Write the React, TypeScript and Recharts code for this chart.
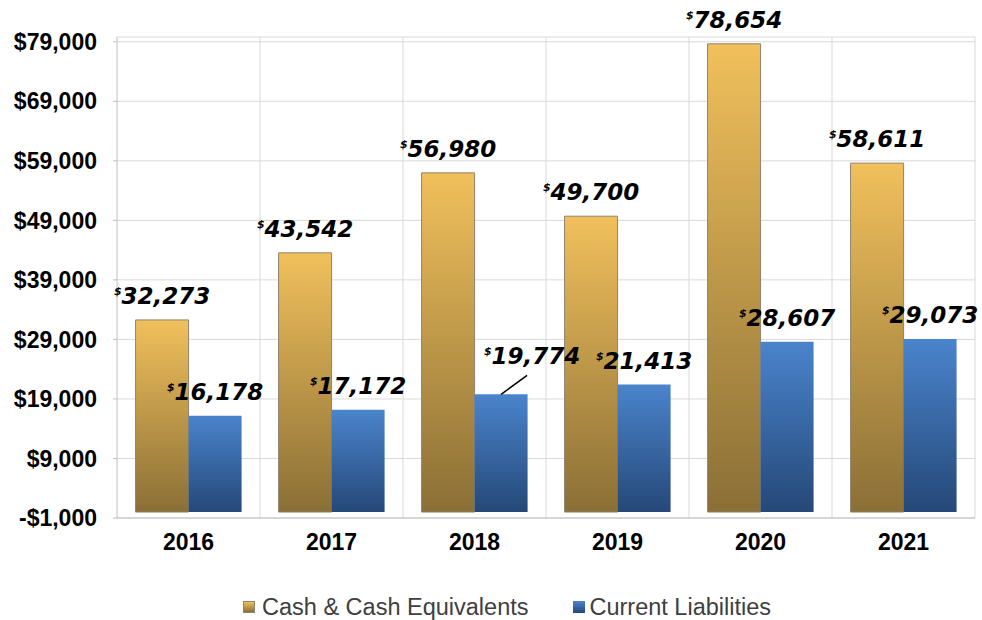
import { BarChart, Bar, XAxis, YAxis, CartesianGrid, LabelList } from 'recharts';

const years = ['2016', '2017', '2018', '2019', '2020', '2021'];
const cashValues = [32273, 43542, 56980, 49700, 78654, 58611];
const liabilityValues = [16178, 17172, 19774, 21413, 28607, 29073];
const yTicks = [-1000, 9000, 19000, 29000, 39000, 49000, 59000, 69000, 79000];

const data = years.map((year, i) => ({
  year,
  cash: cashValues[i],
  liabilities: liabilityValues[i],
}));

const labelFont = '"DejaVu Sans", sans-serif';
const axisFont = '"Liberation Sans", Arial, sans-serif';

const fmtMoney = (v: number) =>
  v < 0 ? `-$${Math.abs(v).toLocaleString('en-US')}` : `$${v.toLocaleString('en-US')}`;

// value label with a small raised dollar sign; the 2018 liability label sits off to the side with a leader line
function makeLabel(series: 'cash' | 'liabilities') {
  return (props: any) => {
    const { x, y, width, value, index } = props;
    const cx = x + width / 2;
    const offset = series === 'liabilities' && index === 2;
    const tx = offset ? cx + 31 : cx;
    const ty = offset ? y - 30 : y - 16;
    return (
      <g>
        {offset && <line x1={cx} y1={y} x2={cx + 26} y2={y - 19} stroke="#000" strokeWidth={1.5} />}
        <text
          x={tx}
          y={ty}
          textAnchor="middle"
          fontFamily={labelFont}
          fontWeight="bold"
          fontStyle="italic"
          fontSize={23}
          fill="#000"
        >
          <tspan fontSize={11} dy={-9}>$</tspan>
          <tspan dy={9}>{Number(value).toLocaleString('en-US')}</tspan>
        </text>
      </g>
    );
  };
}

export default function App() {
  return (
    <div style={{ position: 'absolute', left: 0, top: 0, width: 982, height: 620, background: '#fff' }}>
      <BarChart
        width={982}
        height={620}
        data={data}
        margin={{ top: 37, right: 7, left: 0, bottom: 62 }}
        barCategoryGap="13%"
        barGap={0}
      >
        <defs>
          <linearGradient id="cashGrad" x1="0" y1="0" x2="0" y2="1">
            <stop offset="0%" stopColor="#F1C05C" />
            <stop offset="100%" stopColor="#8A6F36" />
          </linearGradient>
          <linearGradient id="liabGrad" x1="0" y1="0" x2="0" y2="1">
            <stop offset="0%" stopColor="#4A84CC" />
            <stop offset="100%" stopColor="#254878" />
          </linearGradient>
        </defs>
        <CartesianGrid
          stroke="#D9D9D9"
          verticalCoordinatesGenerator={({ offset }: any) =>
            years.map((_, i) => offset.left + ((i + 1) * offset.width) / years.length)
          }
        />
        <XAxis
          dataKey="year"
          stroke="#BFBFBF"
          tickLine={false}
          tickMargin={10}
          height={40}
          fontSize={23}
          tick={{ fill: '#000', fontSize: 23, fontWeight: 'bold', fontFamily: axisFont }}
        />
        <YAxis
          width={117}
          domain={[-1000, 79800]}
          ticks={yTicks}
          stroke="#BFBFBF"
          tickSize={4}
          tickMargin={16}
          tickFormatter={fmtMoney}
          fontSize={23}
          tick={{ fill: '#000', fontSize: 23, fontWeight: 'bold', fontFamily: axisFont }}
        />
        <Bar dataKey="cash" fill="url(#cashGrad)" stroke="#8F8470" strokeWidth={1} isAnimationActive={false}>
          <LabelList dataKey="cash" content={makeLabel('cash')} />
        </Bar>
        <Bar dataKey="liabilities" fill="url(#liabGrad)" isAnimationActive={false}>
          <LabelList dataKey="liabilities" content={makeLabel('liabilities')} />
        </Bar>
      </BarChart>
      <div
        style={{
          position: 'absolute',
          top: 594,
          left: 243,
          display: 'flex',
          gap: 45,
          fontFamily: axisFont,
          fontSize: 23.5,
          color: '#404040',
          lineHeight: '26px',
          whiteSpace: 'nowrap',
        }}
      >
        <span style={{ display: 'flex', alignItems: 'center' }}>
          <span style={{ width: 12, height: 12, marginRight: 7, background: 'linear-gradient(#F1C05C, #8A6F36)', border: '1px solid #8F8470', boxSizing: 'border-box' }} />
          Cash &amp; Cash Equivalents
        </span>
        <span style={{ display: 'flex', alignItems: 'center' }}>
          <span style={{ width: 12, height: 12, marginRight: 4, background: 'linear-gradient(#4A84CC, #254878)' }} />
          Current Liabilities
        </span>
      </div>
    </div>
  );
}
